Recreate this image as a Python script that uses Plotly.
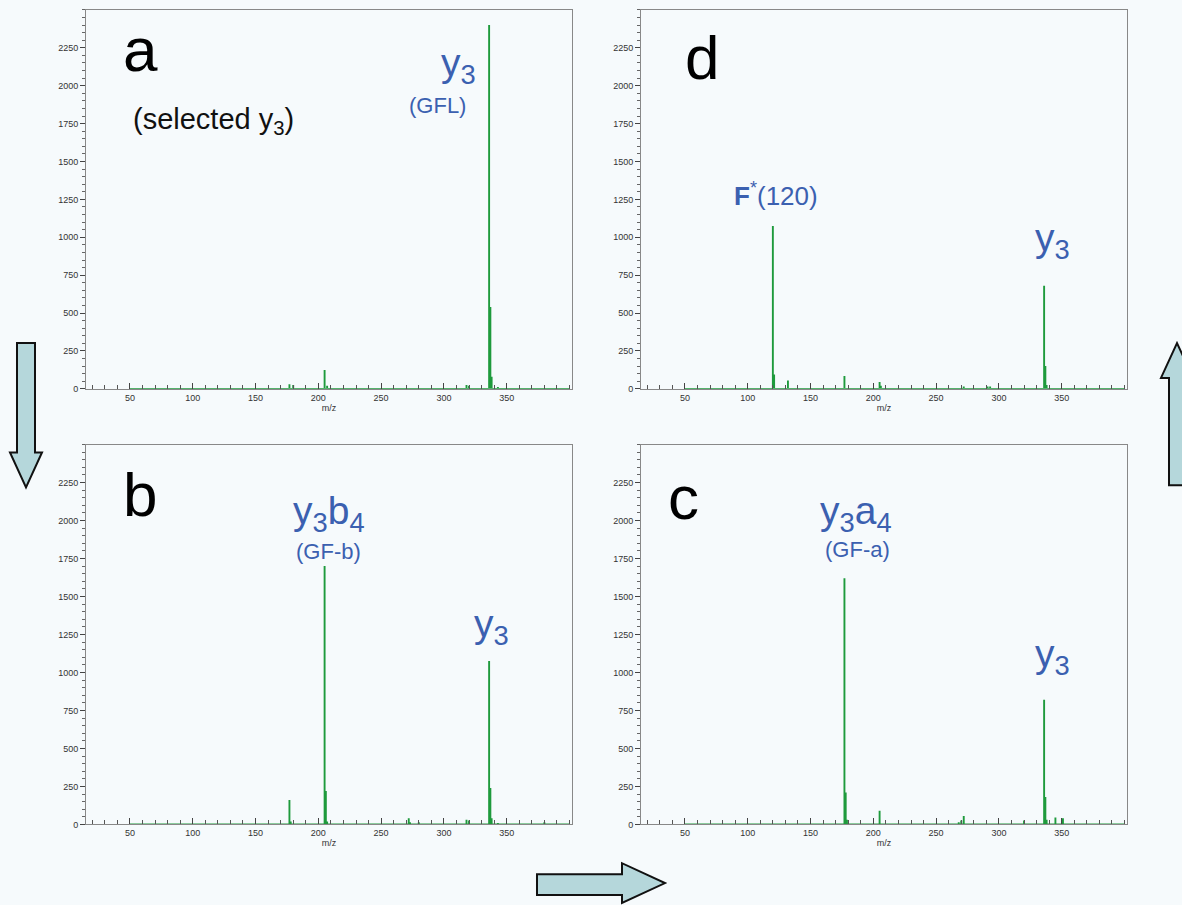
import plotly.graph_objects as go

# ---------------- data ----------------
mz_a = [177, 180, 205, 207, 318, 320, 336, 337, 338, 343]
int_a = [30, 25, 125, 20, 25, 20, 2400, 540, 80, 12]

mz_b = [177, 178, 205, 206, 207, 272, 273, 280, 318, 320, 336, 337, 338, 343, 380]
int_b = [160, 20, 1700, 220, 20, 40, 15, 15, 30, 25, 1075, 240, 40, 10, 15]

mz_c = [177, 178, 179, 205, 268, 270, 272, 320, 336, 337, 338, 345, 351]
int_c = [1620, 210, 30, 90, 15, 25, 55, 25, 820, 180, 30, 45, 40]

mz_d = [120, 121, 132, 177, 205, 206, 272, 291, 293, 336, 337, 338]
int_d = [1075, 95, 55, 85, 45, 20, 15, 15, 15, 680, 150, 25]

y_tickvals = [0, 250, 500, 750, 1000, 1250, 1500, 1750, 2000, 2250]
x_tickvals = [50, 100, 150, 200, 250, 300, 350]
x_range = [15, 402]
y_range = [0, 2500]
baseline = [50, 400]

W, H = 1182, 905
BG = "#f6fafc"
GREEN = "#1e9a3c"
BLUE = "#3b60b0"


def px(x):
    return x / W


def py(y):
    return 1 - y / H


def stick(mz, inten):
    xs, ys = [baseline[0]], [0]
    for m, v in sorted(zip(mz, inten)):
        xs += [m, m, m]
        ys += [0, v, 0]
    xs.append(baseline[1])
    ys.append(0)
    return xs, ys


fig = go.Figure()
panels = [("a", mz_a, int_a, "x", "y"),
          ("b", mz_b, int_b, "x2", "y2"),
          ("c", mz_c, int_c, "x3", "y3"),
          ("d", mz_d, int_d, "x4", "y4")]
for name, mz, inten, xa, ya in panels:
    xs, ys = stick(mz, inten)
    fig.add_trace(go.Scatter(x=xs, y=ys, mode="lines", xaxis=xa, yaxis=ya,
                             line=dict(color=GREEN, width=1.9),
                             showlegend=False, hoverinfo="skip"))

left = [px(86), px(572)]
right = [px(641), px(1127)]
top = [py(391), py(10)]
bottom = [py(829), py(447)]

tickfont = dict(family="Liberation Sans Narrow, Arial Narrow, sans-serif", size=9, color="#333")


def xax(domain, anchor):
    return dict(domain=domain, anchor=anchor, range=x_range, tickvals=x_tickvals,
                ticks="inside", ticklen=6, tickcolor="#444", tickwidth=1,
                minor=dict(dtick=10, tick0=0, ticks="inside", ticklen=4, tickcolor="#555"),
                showline=True, linecolor="#888", linewidth=1, mirror=True,
                showgrid=False, zeroline=False, tickfont=tickfont,
                title=dict(text="m/z", font=tickfont, standoff=0))


def yax(domain, anchor):
    return dict(domain=domain, anchor=anchor, range=y_range, tickvals=y_tickvals,
                ticks="outside", ticklen=5, tickcolor="#444", tickwidth=1,
                minor=dict(dtick=50, tick0=0, ticks="outside", ticklen=3, tickcolor="#666"),
                showline=True, linecolor="#888", linewidth=1, mirror=True,
                showgrid=False, zeroline=False, tickfont=tickfont, ticklabelstandoff=0)


fig.update_layout(
    width=W, height=H, margin=dict(l=0, r=0, t=0, b=0),
    paper_bgcolor=BG, plot_bgcolor=BG, showlegend=False,
    xaxis=xax(left, "y"), yaxis=yax(top, "x"),
    xaxis2=xax(left, "y2"), yaxis2=yax(bottom, "x2"),
    xaxis3=xax(right, "y3"), yaxis3=yax(bottom, "x3"),
    xaxis4=xax(right, "y4"), yaxis4=yax(top, "x4"),
)

FONT = "Liberation Sans, Arial, Helvetica, sans-serif"
ann = []


def add(text, x, y, size, color=BLUE, xanchor="center"):
    ann.append(dict(text=text, x=px(x), y=py(y), xref="paper", yref="paper",
                    showarrow=False, xanchor=xanchor, yanchor="middle",
                    font=dict(family=FONT, size=size, color=color)))


# panel letters
add("a", 140, 50, 62, "#000")
add("b", 140, 497, 62, "#000")
add("c", 683, 500, 62, "#000")
add("d", 702, 58, 62, "#000")
add("(selected y<sub>3</sub>)", 213, 122, 29, "#111")

# peak labels
add("y<sub>3</sub>", 458, 66, 39)
add("(GFL)", 437, 106, 22)
add("y<sub>3</sub>b<sub>4</sub>", 329, 516, 39)
add("(GF-b)", 328, 555, 22)
add("y<sub>3</sub>", 491, 630, 39)
add("y<sub>3</sub>a<sub>4</sub>", 856, 516, 39)
add("(GF-a)", 857, 553, 22)
add("y<sub>3</sub>", 1052, 660, 39)
add("<b>F</b><sup>*</sup>(120)", 776, 196, 26)
add("y<sub>3</sub>", 1052, 242, 39)
fig.update_layout(annotations=ann)


def path(points):
    return "M " + " L ".join(f"{px(x):.5f},{py(y):.5f}" for x, y in points) + " Z"


ARROW = dict(type="path", xref="paper", yref="paper", fillcolor="#b5d7db",
             line=dict(color="#111", width=2), layer="above")
shapes = [
    dict(ARROW, path=path([(17, 345), (35, 345), (35, 455), (42, 455), (26, 490),
                           (10, 455), (17, 455)])),
    dict(ARROW, path=path([(1169, 488), (1169, 380), (1161, 380), (1177, 345),
                           (1193, 380), (1186, 380), (1186, 488)])),
    dict(ARROW, path=path([(537, 879), (622, 879), (622, 868), (665, 888),
                           (622, 908), (622, 900), (537, 900)])),
]
fig.update_layout(shapes=shapes)

post = (
    "var s=document.createElement('style');"
    "s.textContent='html,body{margin:0;padding:0;overflow:hidden;background:#f6fafc;}';"
    "document.head.appendChild(s);"
    "var gd=document.getElementById('{plot_id}');"
    "gd.style.position='fixed';gd.style.left='0px';gd.style.top='0px';"
)
fig.write_html("out.html", config={"displayModeBar": False}, post_script=post)
